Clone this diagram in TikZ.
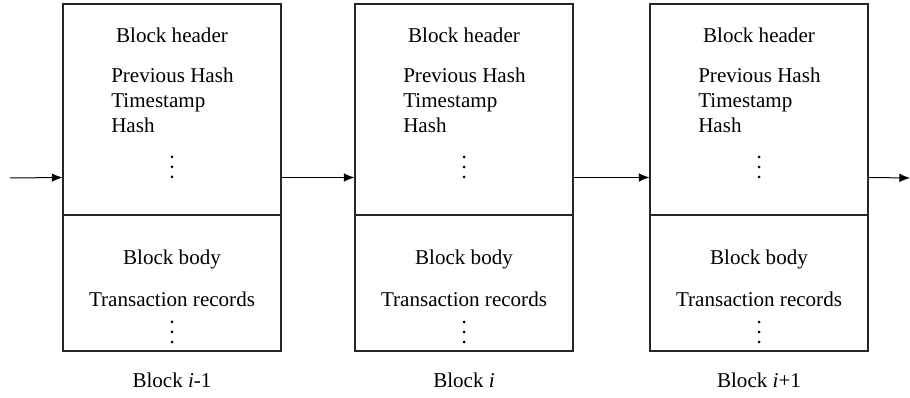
\documentclass[tikz,border=0pt]{standalone}
\usepackage{fontspec}
\setmainfont{Liberation Serif}
\usetikzlibrary{arrows.meta}
\tikzset{
  blockbox/.style={draw=black!85, line width=0.8pt, minimum width=163.5pt, minimum height=260.25pt, inner sep=0pt},
  divider/.style={line width=0.8pt, draw=black!85},
  link/.style={line width=0.75pt, -{Latex[length=8pt,width=6.5pt]}},
  txt/.style={inner sep=0pt, font=\fontsize{15.8}{19}\selectfont},
}
\newcommand{\dotcol}[2]{\fill (#1,#2-10) circle (1.5) (#1,#2) circle (1.5) (#1,#2+10) circle (1.5);}
\begin{document}
\begin{tikzpicture}[x=0.75pt,y=0.75pt,yscale=-1]
\useasboundingbox (0,0) rectangle (910,398);

% Blocks
\node[blockbox] (b1) at (172,177.5) {};
\node[blockbox] (b2) at (464,177.5) {};
\node[blockbox] (b3) at (759,177.5) {};
\draw[divider] (b1.west |- 0,215) -- (b1.east |- 0,215);
\draw[divider] (b2.west |- 0,215) -- (b2.east |- 0,215);
\draw[divider] (b3.west |- 0,215) -- (b3.east |- 0,215);

% Links
\coordinate (in) at (10,178);
\coordinate (out) at (910,178);
\draw[link] (in) -- (b1.west);
\draw[link] (b1.east) -- (b2.west);
\draw[link] (b2.east) -- (b3.west);
\draw[link] (b3.east) -- (out);

% Text Node: block i-1
\node[txt, anchor=base] (h1) at (172,43) {Block header};
\node[txt, anchor=base west] (p1) at (111,83) {Previous Hash};
\node[txt, anchor=base west] (t1) at (111,108) {Timestamp};
\node[txt, anchor=base west] (s1) at (111,133) {Hash};
\dotcol{172}{167}
\node[txt, anchor=base] (y1) at (172,265) {Block body};
\node[txt, anchor=base] (r1) at (172,307) {Transaction records};
\dotcol{172}{332}
\node[txt, anchor=base] (l1) at (172,388) {Block \textit{i}-1};

% Text Node: block i
\node[txt, anchor=base] (h2) at (464,43) {Block header};
\node[txt, anchor=base west] (p2) at (403,83) {Previous Hash};
\node[txt, anchor=base west] (t2) at (403,108) {Timestamp};
\node[txt, anchor=base west] (s2) at (403,133) {Hash};
\dotcol{464}{167}
\node[txt, anchor=base] (y2) at (464,265) {Block body};
\node[txt, anchor=base] (r2) at (464,307) {Transaction records};
\dotcol{464}{332}
\node[txt, anchor=base] (l2) at (464,388) {Block \textit{i}};

% Text Node: block i+1
\node[txt, anchor=base] (h3) at (759,43) {Block header};
\node[txt, anchor=base west] (p3) at (698,83) {Previous Hash};
\node[txt, anchor=base west] (t3) at (698,108) {Timestamp};
\node[txt, anchor=base west] (s3) at (698,133) {Hash};
\dotcol{759}{167}
\node[txt, anchor=base] (y3) at (759,265) {Block body};
\node[txt, anchor=base] (r3) at (759,307) {Transaction records};
\dotcol{759}{332}
\node[txt, anchor=base] (l3) at (759,388) {Block \textit{i}+1};

\end{tikzpicture}
\end{document}
